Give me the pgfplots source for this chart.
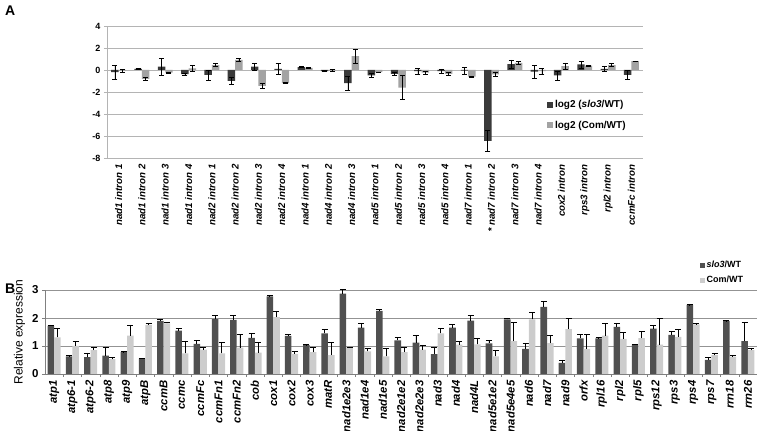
\documentclass[border=0pt]{standalone}
\usepackage{fontspec}
\setmainfont{Liberation Sans}
\usepackage{pgfplots}
\usepackage{pgfplotstable}
\pgfplotsset{compat=1.18}

\definecolor{adark}{HTML}{3A3A3A}
\definecolor{alight}{HTML}{A3A3A3}
\definecolor{bdark}{HTML}{505050}
\definecolor{blight}{HTML}{CCCCCC}
\definecolor{gridc}{HTML}{B4B4B4}

% panel A: log2 ratios, x s se c ce
\pgfplotstableread{
x  s     se    c     ce
1  -0.20 0.65  -0.08 0.10
2  0.10  0.05  -0.80 0.15
3  0.30  0.78  -0.25 0.05
4  -0.38 0.08  0.15  0.30
5  -0.45 0.45  0.45  0.12
6  -1.00 0.30  0.92  0.14
7  0.30  0.30  -1.45 0.22
8  0.10  0.50  -1.20 0.05
9  0.25  0.05  0.20  0.05
10 -0.10 0.05  -0.05 0.10
11 -1.20 0.65  1.25  0.62
12 -0.50 0.20  -0.20 0.03
13 -0.35 0.10  -1.60 1.10
14 -0.10 0.25  -0.25 0.10
15 -0.10 0.20  -0.35 0.15
16 -0.05 0.30  -0.60 0.05
17 -6.45 0.95  -0.40 0.20
18 0.53  0.38  0.65  0.12
19 -0.15 0.60  -0.10 0.25
20 -0.50 0.40  0.35  0.30
21 0.50  0.33  0.40  0.05
22 0.10  0.25  0.44  0.14
23 -0.45 0.42  0.80  0.03
}\dataA

% panel B: relative expression, x s se c ce (upper error only)
\pgfplotstableread{
x  s     se    c     ce
1  1.72  0.03  1.31  0.30
2  0.63  0.03  1.00  0.17
3  0.60  0.15  0.85  0.11
4  0.66  0.30  0.53  0.07
5  0.78  0.02  1.37  0.38
6  0.55  0.02  1.75  0.04
7  1.90  0.06  1.81  0.04
8  1.55  0.08  0.74  0.44
9  1.08  0.11  0.87  0.09
10 1.96  0.12  0.74  0.38
11 1.93  0.15  0.94  0.46
12 1.29  0.16  0.76  0.38
13 2.77  0.02  2.03  0.19
14 1.36  0.05  0.72  0.07
15 1.03  0.02  0.78  0.18
16 1.45  0.13  0.67  0.45
17 2.87  0.15  0.94  0.02
18 1.66  0.15  0.81  0.09
19 2.25  0.06  0.63  0.28
20 1.20  0.09  0.78  0.16
21 1.12  0.26  0.87  0.15
22 0.71  0.23  1.45  0.16
23 1.66  0.10  1.05  0.10
24 1.91  0.19  1.06  0.22
25 1.09  0.12  0.63  0.22
26 1.95  0.05  1.17  0.68
27 0.90  0.20  1.95  0.25
28 2.40  0.20  1.10  0.28
29 0.40  0.10  1.60  0.37
30 1.27  0.15  0.90  0.52
31 1.27  0.03  1.37  0.45
32 1.68  0.12  1.25  0.22
33 1.05  0.01  1.28  0.25
34 1.62  0.11  1.05  0.92
35 1.40  0.12  1.33  0.27
36 2.47  0.01  1.77  0.03
37 0.50  0.10  0.67  0.06
38 1.90  0.01  0.62  0.05
39 1.17  0.66  0.85  0.08
}\dataB

\begin{document}
\begin{tikzpicture}[x=1pt,y=1pt]
\useasboundingbox (0,0) rectangle (758,431);
\node[anchor=north west,inner sep=0pt,font=\bfseries\fontsize{14}{14}\selectfont] at (5,425) {A};
\node[anchor=north west,inner sep=0pt,font=\bfseries\fontsize{14}{14}\selectfont] at (5,147) {B};

\begin{axis}[
 at={(107pt,273pt)},anchor=south west,
 scale only axis,width=536pt,height=132pt,
 ybar=0pt,bar width=0.32,
 xmin=0.5,xmax=23.5,ymin=-8,ymax=4,
 ytick={-8,-6,...,4},
 xtick={1,...,23},
 xticklabels={nad1 intron 1,nad1 intron 2,nad1 intron 3,nad1 intron 4,
  nad2 intron 1,nad2 intron 2,nad2 intron 3,nad2 intron 4,
  nad4 intron 1,nad4 intron 2,nad4 intron 3,
  nad5 intron 1,nad5 intron 2,nad5 intron 3,nad5 intron 4,
  nad7 intron 1,{{\upshape *}\ nad7 intron 2},nad7 intron 3,nad7 intron 4,
  cox2 intron,rps3 intron,rpl2 intron,ccmFc intron},
 xticklabel style={rotate=90,anchor=east,font=\bfseries\itshape\fontsize{9.7}{10}\selectfont},
 yticklabel style={font=\bfseries\fontsize{9}{10}\selectfont},
 /pgf/number format/assume math mode=true,
 axis y line=left,axis x line=bottom,
 axis line style={gridc,-},
 ymajorgrids,major grid style={gridc,line width=0.6pt},
 major x tick style={draw=none},
 tick align=outside,major tick length=3pt,
 y tick style={gridc},
 legend style={at={(0.815,0.47)},anchor=north west,draw=none,fill=none,
  font=\bfseries\fontsize{10}{12}\selectfont,row sep=8pt},
 legend cell align=left,
 legend image code/.code={\fill[#1] (0pt,-3pt) rectangle (6pt,3pt);},
 error bars/error bar style={black,line width=0.6pt},
 error bars/error mark options={rotate=90,black,mark size=2.5pt,line width=0.6pt},
 ]
\addplot[fill=adark,draw=none,error bars/.cd,y dir=both,y explicit]
 table[x=x,y=s,y error=se]{\dataA};
\addlegendentry{log2 (\textit{slo3}/WT)}
\addplot[fill=alight,draw=none,error bars/.cd,y dir=both,y explicit]
 table[x=x,y=c,y error=ce]{\dataA};
\addlegendentry{log2 (Com/WT)}
\end{axis}

\begin{axis}[
 at={(45pt,57pt)},anchor=south west,
 scale only axis,width=712pt,height=84pt,
 ybar=0pt,bar width=0.36,
 xmin=0.5,xmax=39.5,ymin=0,ymax=3,
 ytick={0,1,2,3},
 xtick={1,...,39},
 xticklabels={atp1,atp6-1,atp6-2,atp8,atp9,atpB,ccmB,ccmc,ccmFc,ccmFn1,ccmFn2,
  cob,cox1,cox2,cox3,matR,nad1e2e3,nad1e4,nad1e5,nad2e1e2,nad2e2e3,nad3,nad4,
  nad4L,nad5e1e2,nad5e4e5,nad6,nad7,nad9,orfx,rpl16,rpl2,rpl5,rps12,rps3,rps4,
  rps7,rrn18,rrn26},
 xticklabel style={rotate=90,anchor=east,font=\bfseries\itshape\fontsize{11.3}{12}\selectfont},
 yticklabel style={font=\bfseries\fontsize{11.5}{12}\selectfont},
 /pgf/number format/assume math mode=true,
 ylabel={Relative expression},
 ylabel style={font=\fontsize{12}{13}\selectfont},
 axis y line=left,axis x line=bottom,
 axis line style={gray,-},
 ymajorgrids,major grid style={gray!85,line width=0.6pt},
 major x tick style={draw=none},
 minor x tick num=1,minor x tick style={gray},
 tick align=outside,major tick length=3pt,minor tick length=3pt,
 y tick style={gray},
 legend style={at={(0.915,1.39)},anchor=north west,draw=none,fill=none,
  font=\bfseries\fontsize{9}{10}\selectfont,row sep=3pt},
 legend cell align=left,
 legend image code/.code={\fill[#1] (0pt,-2.5pt) rectangle (5pt,2.5pt);},
 error bars/error bar style={black,line width=0.9pt},
 error bars/error mark options={rotate=90,black,mark size=3pt,line width=0.9pt},
 ]
\addplot[fill=bdark,draw=none,error bars/.cd,y dir=plus,y explicit]
 table[x=x,y=s,y error=se]{\dataB};
\addlegendentry{\textit{slo3}/WT}
\addplot[fill=blight,draw=none,error bars/.cd,y dir=plus,y explicit]
 table[x=x,y=c,y error=ce]{\dataB};
\addlegendentry{Com/WT}
\end{axis}
\end{tikzpicture}
\end{document}
